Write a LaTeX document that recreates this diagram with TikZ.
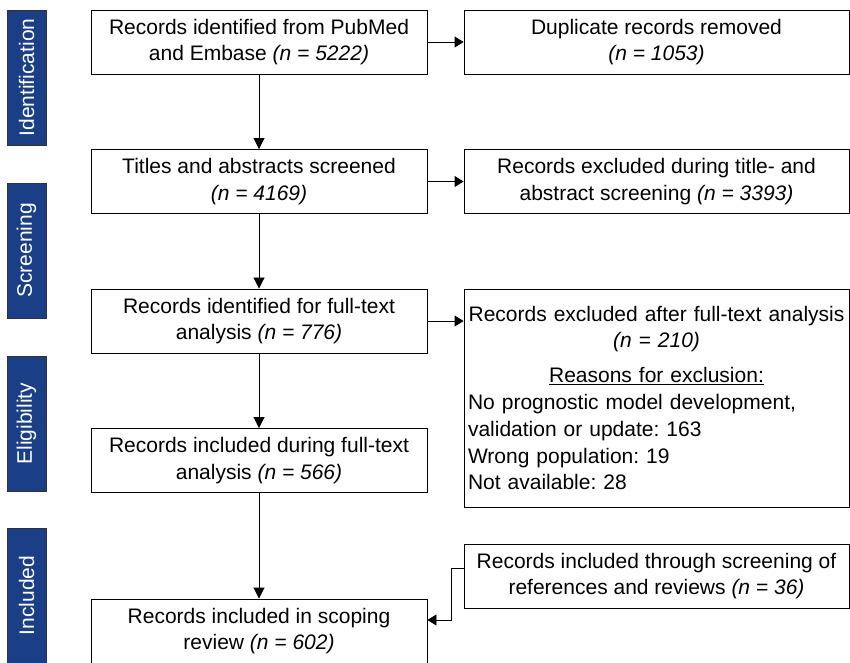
\documentclass[tikz,border=0pt]{standalone}
\usepackage{fontspec}
\setmainfont{Liberation Sans}
\usetikzlibrary{arrows.meta}
\frenchspacing

\definecolor{phaseblue}{RGB}{27,63,135}
\newcommand{\flowfont}{\fontsize{21}{26.8}\selectfont}

\tikzset{
  box/.style={draw, line width=0.9pt, align=center, font=\flowfont, inner sep=2pt},
  leftbox/.style={box, minimum width=336pt, minimum height=64pt},
  rightbox/.style={box, minimum width=385pt, minimum height=64pt},
  phase/.style={draw=black!80, line width=0.9pt, fill=phaseblue, text=white,
    rotate=90, minimum width=135pt, minimum height=39pt, inner sep=0pt, font=\flowfont},
  down/.style={-{Triangle[length=11pt,width=11pt]}, line width=0.9pt},
  side/.style={-{Triangle[length=9pt,width=11pt]}, line width=0.9pt}
}

\begin{document}
\begin{tikzpicture}[x=1pt,y=1pt]
    \useasboundingbox (0,0) rectangle (850,662);

    % phases
    \node[phase] (ident)  at (26.5,584.5) {Identification};
    \node[phase] (screen) at (26.5,411.5) {Screening};
    \node[phase] (elig)   at (26.5,238.5) {Eligibility};
    \node[phase] (incl)   at (26.5,66.5)  {Included};

    % main column
    \node[leftbox] (found)    at (259,620)   {Records identified from PubMed\\ and Embase \textit{(n = 5222)}};
    \node[leftbox] (titles)   at (259,480.5) {Titles and abstracts screened\\ \textit{(n = 4169)}};
    \node[leftbox] (fulltext) at (259,341)   {Records identified for full-text\\ analysis \textit{(n = 776)}};
    \node[leftbox] (kept)     at (259,201.5) {Records included during full-text\\ analysis \textit{(n = 566)}};
    \node[leftbox] (review)   at (259,31)    {Records included in scoping\\ review \textit{(n = 602)}};

    % side column
    \node[rightbox] (dupl)    at (656.5,620)   {Duplicate records removed\\ \textit{(n = 1053)}};
    \node[rightbox] (excl)    at (656.5,480.5) {Records excluded during title- and\\ abstract screening \textit{(n = 3393)}};
    \node[box, minimum width=385pt, minimum height=218pt, text width=377pt, inner xsep=4pt, align=left]
      (reasons) at (656.5,264)
      {{\centering Records excluded after full-text analysis\\ \textit{(n = 210)}\\[8pt]
        \underline{Reasons for exclusion:}\par}
       No prognostic model development,\\ validation or update: 163\\
       Wrong population: 19\\ Not available: 28\par\vspace{10pt}};
    \node[rightbox] (extra)   at (656.5,86)    {Records included through screening of\\ references and reviews \textit{(n = 36)}};

    \draw[down] (found) -- (titles);
    \draw[down] (titles) -- (fulltext);
    \draw[down] (fulltext) -- (kept);
    \draw[down] (kept) -- (review);

    \draw[side] (found) -- (dupl);
    \draw[side] (titles) -- (excl);
    \draw[side] (fulltext.east) -- (fulltext.east -| reasons.west);
    \draw[side] ([yshift=8pt]extra.west) -- ++(-12,0) |- ([yshift=11pt]review.east);
\end{tikzpicture}
\end{document}
